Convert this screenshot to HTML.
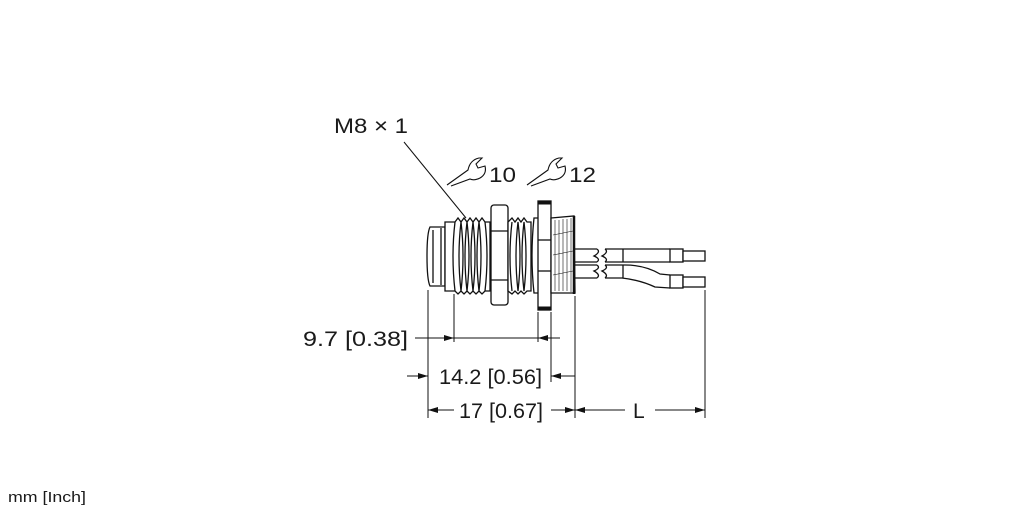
<!DOCTYPE html>
<html><head><meta charset="utf-8"><style>
html,body{margin:0;padding:0;background:#fff;}
svg{display:block}
text{font-family:"Liberation Sans",sans-serif;fill:#1a1a1a}
</style></head><body>
<svg width="1022" height="511" viewBox="0 0 1022 511" xmlns="http://www.w3.org/2000/svg">
<defs>
<marker id="a" viewBox="0 0 10 6" refX="10" refY="3" markerWidth="10" markerHeight="6" orient="auto-start-reverse" markerUnits="userSpaceOnUse"><path d="M0,0 L10,3 L0,6 Z" fill="#111"/></marker>
</defs>
<g fill="none" stroke="#111" stroke-width="1.3">
<path d="M430,227 L445,227 L445,286 L430,286 Q427,280 427,256 Q427,233 430,227 Z" fill="#fff"/>
<line x1="433" y1="230" x2="433" y2="283"/>
<line x1="441" y1="228" x2="441" y2="285"/>
<path d="M445,222 L455,222 L458,218 L461,222 L464,218 L467,222 L470,218 L473,222 L476,218 L479,222 L482,218 L485,222 L490,222 L490,291 L485,291 L482,294 L479,291 L476,294 L473,291 L470,294 L467,291 L464,294 L461,291 L458,294 L455,291 L445,291 Z" fill="#fff"/>
<path d="M455,222 Q451,256 455,291 M461,222 Q465,256 461,291 M461,222 Q457,256 461,291 M467,222 Q471,256 467,291 M467,222 Q463,256 467,291 M473,222 Q477,256 473,291 M473,222 Q469,256 473,291 M479,222 Q483,256 479,291 M479,222 Q475,256 479,291 M485,222 Q489,256 485,291"/>
<rect x="491" y="205" width="17" height="100" rx="3" fill="#fff"/>
<line x1="491" y1="231" x2="508" y2="231"/><line x1="491" y1="280" x2="508" y2="280"/>
<path d="M508,222 L512,218 L515,222 L518,218 L521,222 L524,218 L527,222 L531,222 L531,291 L527,291 L524,294 L521,291 L518,294 L515,291 L512,294 L508,291 Z" fill="#fff"/>
<path d="M512,222 Q508,256 512,291 M518,222 Q522,256 518,291 M518,222 Q514,256 518,291 M524,222 Q528,256 524,291 M524,222 Q520,256 524,291"/>
<path d="M534,218 Q530,256 534,293 L540,293 L540,218 Z" fill="#fff"/>
<rect x="538" y="201" width="13" height="109" fill="#fff"/>
<line x1="538" y1="203" x2="551" y2="203" stroke-width="3"/>
<line x1="538" y1="308" x2="551" y2="308" stroke-width="3"/>
<line x1="538" y1="240" x2="551" y2="240"/><line x1="538" y1="271" x2="551" y2="271"/>
<path d="M551,218 L574,216 L575,293 L551,293 Z" fill="#fff"/>
<g stroke-width="0.6">
<path d="M555,220 L555,291 M559,220 L559,291 M563,219 L563,291 M567,219 L567,291 M571,218 L571,292"/>
<path d="M553,235 L573,231 M553,255 L573,251 M553,275 L573,271"/>
</g>
<line x1="574" y1="216" x2="574" y2="294" stroke-width="2.5"/>
<path d="M575,249 L597,249 M575,262 L597,262 M575,265 L597,265 M575,278 L597,278" />
<path d="M597,249 Q601,252 594,256 Q601,259 597,262 M597,265 Q601,268 594,271 Q601,275 597,278"/>
<path d="M605,249 Q609,252 602,256 Q609,259 605,262 M605,265 Q609,268 602,271 Q609,275 605,278"/>
<path d="M605,249 L670,249 M605,262 L670,262 M623,249 L623,262"/>
<path d="M605,265 L625,265 Q645,265 660,274 L670,275 M605,278 L622,278 Q640,280 655,287 L670,288 M623,265 L623,278"/>
<rect x="670" y="249" width="13" height="13" fill="#fff"/>
<rect x="683" y="251" width="22" height="10" fill="#fff"/>
<rect x="670" y="275" width="13" height="13" fill="#fff"/>
<rect x="683" y="277" width="22" height="10" fill="#fff"/>
</g>
<g stroke="#111" stroke-width="1" fill="none">
<line x1="428" y1="290" x2="428" y2="418"/>
<line x1="454" y1="294" x2="454" y2="342"/>
<line x1="538" y1="312" x2="538" y2="342"/>
<line x1="551" y1="312" x2="551" y2="382"/>
<line x1="575" y1="296" x2="575" y2="418"/>
<line x1="705" y1="290" x2="705" y2="418"/>
<line x1="415" y1="338" x2="454" y2="338" marker-end="url(#a)"/>
<line x1="454" y1="338" x2="538" y2="338"/>
<line x1="560" y1="338" x2="538" y2="338" marker-end="url(#a)"/>
<line x1="407" y1="376" x2="428" y2="376" marker-end="url(#a)"/>
<line x1="575" y1="376" x2="551" y2="376" marker-end="url(#a)"/>
<line x1="428" y1="410" x2="454" y2="410" marker-start="url(#a)"/>
<line x1="551" y1="410" x2="575" y2="410" marker-end="url(#a)"/>
<line x1="575" y1="410" x2="625" y2="410" marker-start="url(#a)"/>
<line x1="655" y1="410" x2="705" y2="410" marker-end="url(#a)"/>
<line x1="404" y1="142" x2="466" y2="218"/>
</g>
<g stroke="#111" stroke-width="1.1" fill="none">
<path d="M447,185 L468,170 Q470,160 479,158 L482,158 L476,164 L478,168 L485,166 Q487,174 480,178 Q474,181 470,179 L451,186"/>
<path d="M527,185 L548,170 Q550,160 559,158 L562,158 L556,164 L558,168 L565,166 Q567,174 560,178 Q554,181 550,179 L531,186"/>
</g>
<text x="334" y="133" font-size="21" textLength="74" lengthAdjust="spacingAndGlyphs">M8 × 1</text>
<text x="489" y="182" font-size="21" textLength="27" lengthAdjust="spacingAndGlyphs">10</text>
<text x="569" y="182" font-size="21" textLength="27" lengthAdjust="spacingAndGlyphs">12</text>
<text x="303" y="346" font-size="21" textLength="105" lengthAdjust="spacingAndGlyphs">9.7 [0.38]</text>
<text x="439" y="384" font-size="21" textLength="103" lengthAdjust="spacingAndGlyphs">14.2 [0.56]</text>
<text x="459" y="418" font-size="21" textLength="84" lengthAdjust="spacingAndGlyphs">17 [0.67]</text>
<text x="633" y="418" font-size="21">L</text>
<text x="8" y="502" font-size="15" textLength="78" lengthAdjust="spacingAndGlyphs">mm [Inch]</text>
</svg>
</body></html>
